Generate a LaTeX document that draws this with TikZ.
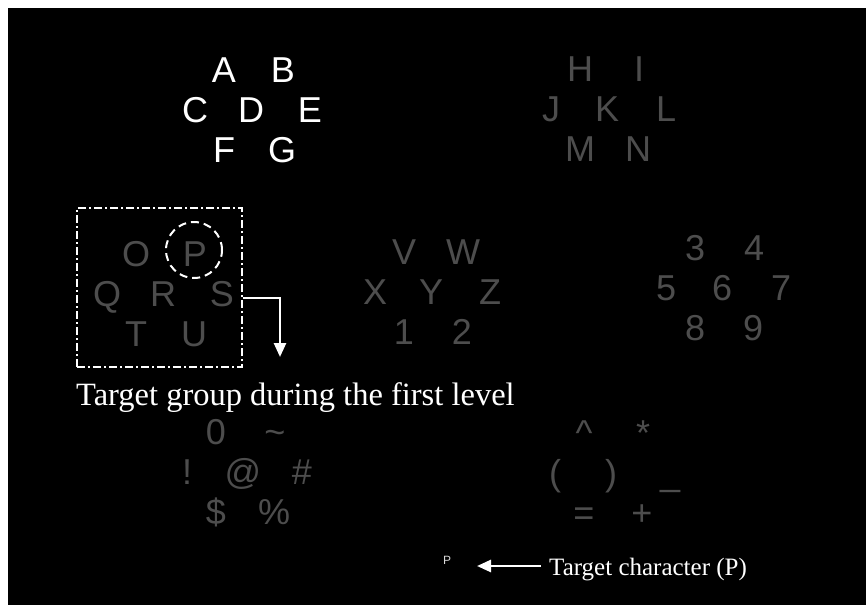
\documentclass[tikz,border=0pt]{standalone}
\usepackage{fontspec}
\setmainfont{Liberation Serif}
\setsansfont{Liberation Sans}
\usetikzlibrary{arrows.meta,positioning}
\definecolor{screen}{HTML}{000000}
\definecolor{chalk}{HTML}{FFFFFF}
\definecolor{faint}{HTML}{4D4D4D}
\tikzset{
  >=Latex,
  keyhi/.style={anchor=base,inner sep=0pt,text=chalk,font=\sffamily\fontsize{36}{40}\selectfont},
  keylo/.style={keyhi,text=faint},
  groupbox/.style={draw=chalk,line width=1.6pt,dash pattern=on 8pt off 3pt on 2pt off 3pt,minimum width=165pt,minimum height=159pt,inner sep=0pt},
  ring/.style={circle,draw=chalk,line width=2pt,dash pattern=on 8pt off 5pt,minimum size=56pt,inner sep=0pt},
  pointer/.style={-{Triangle[length=14pt,width=12pt]},line width=2.6pt,draw=chalk},
  caption/.style={text=chalk,inner sep=0pt,font=\rmfamily\fontsize{32.5}{36}\selectfont},
  smallcaption/.style={caption,font=\rmfamily\fontsize{25}{28}\selectfont},
  tinykey/.style={anchor=base,inner sep=0pt,text=chalk!85!black,font=\sffamily\fontsize{12}{13}\selectfont}
}

\begin{document}
\begin{tikzpicture}[x=1pt,y=-1pt]
  \useasboundingbox (0,0) rectangle (866,605);
  \fill[chalk] (0,0) rectangle (866,605);
  \fill[screen] (8,8) rectangle (866,605);

  \begin{scope}[shift={(251,122)}]
    \foreach \x/\y/\ch/\nm in {-27/-40/A/A,32/-40/B/B,-56/0/C/C,0/0/D/D,59/0/E/E,-27/40/F/F,31/40/G/G}
      \node[keyhi] (k\nm) at (\x,\y) {\ch};
  \end{scope}
  \begin{scope}[shift={(607,121)}]
    \foreach \x/\y/\ch/\nm in {-27/-40/H/H,32/-40/I/I,-56/0/J/J,0/0/K/K,59/0/L/L,-27/40/M/M,31/40/N/N}
      \node[keylo] (k\nm) at (\x,\y) {\ch};
  \end{scope}
  \begin{scope}[shift={(163,306)}]
    \foreach \x/\y/\ch/\nm in {-27/-40/O/O,32/-40/P/P,-56/0/Q/Q,0/0/R/R,59/0/S/S,-27/40/T/T,31/40/U/U}
      \node[keylo] (k\nm) at (\x,\y) {\ch};
  \end{scope}
  \begin{scope}[shift={(431,304)}]
    \foreach \x/\y/\ch/\nm in {-27/-40/V/V,32/-40/W/W,-56/0/X/X,0/0/Y/Y,59/0/Z/Z,-27/40/1/One,31/40/2/Two}
      \node[keylo] (k\nm) at (\x,\y) {\ch};
  \end{scope}
  \begin{scope}[shift={(722,300)}]
    \foreach \x/\y/\ch/\nm in {-27/-40/3/Three,32/-40/4/Four,-56/0/5/Five,0/0/6/Six,59/0/7/Seven,-27/40/8/Eight,31/40/9/Nine}
      \node[keylo] (k\nm) at (\x,\y) {\ch};
  \end{scope}
  \begin{scope}[shift={(243,484)}]
    \foreach \x/\y/\ch/\nm in {-27/-40/0/Zero,32/-40/\textasciitilde/Tilde,-56/0/!/Bang,0/0/@/At,59/0/\#/Hash,-27/40/\$/Dollar,31/40/\%/Pct}
      \node[keylo] (k\nm) at (\x,\y) {\ch};
  \end{scope}
  \begin{scope}[shift={(611,485)}]
    \foreach \x/\y/\ch/\nm in {-27/-40/\textasciicircum/Caret,32/-40/*/Star,-56/0/(/Lpar,0/0/)/Rpar,59/0/\_/Under,-27/40/=/Eq,31/40/+/Plus}
      \node[keylo] (k\nm) at (\x,\y) {\ch};
  \end{scope}

  \node[groupbox] (tgtbox) at (159.5,287.5) {};
  \node[ring] (ring) at (194,250) {};
  \node[caption,anchor=base west] (grouplabel) at (76,405) {Target group during the first level};
  \coordinate (drop) at (280,357);
  \draw[pointer] ([yshift=-10.5pt]tgtbox.east) -| (drop);

  \node[tinykey] (tinyP) at (447,564) {P};
  \node[smallcaption,anchor=base west] (charlabel) at (549,575) {Target character (P)};
  \coordinate (tip) at (477,566);
  \draw[pointer] ([xshift=-8pt]charlabel.west |- tip) -- (tip);
\end{tikzpicture}
\end{document}
